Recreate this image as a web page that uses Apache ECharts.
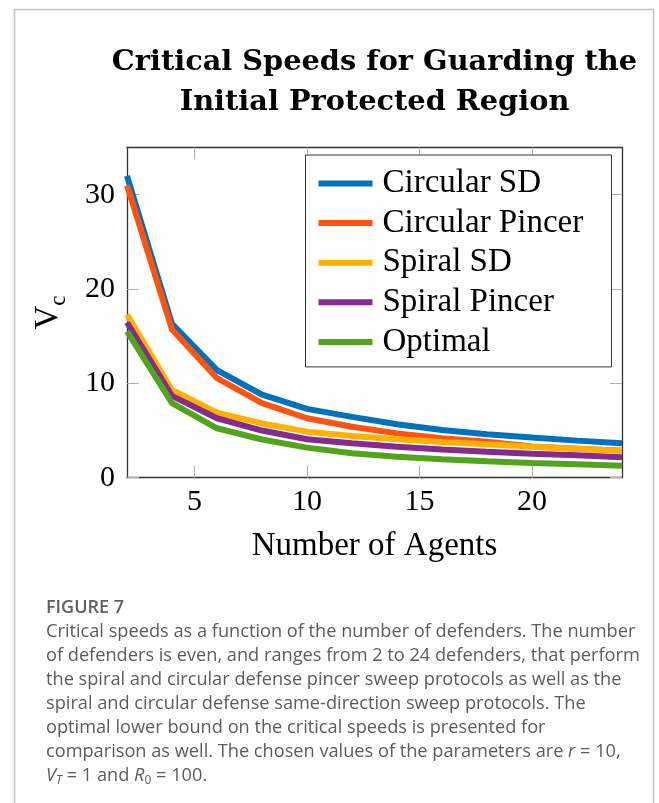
<!DOCTYPE html>
<html>
<head>
<meta charset="utf-8">
<script src="https://cdn.jsdelivr.net/npm/echarts@6/dist/echarts.min.js"></script>
<style>
  html, body { margin: 0; padding: 0; background: #fff; }
  #chart { width: 659px; height: 803px; }
</style>
</head>
<body>
<div id="chart"></div>
<script>
// ---- Data ----
const agents = [2, 4, 6, 8, 10, 12, 14, 16, 18, 20, 22, 24];
const circularSD     = [32.0, 16.3, 11.4, 8.8, 7.3, 6.45, 5.67, 5.06, 4.6, 4.25, 3.93, 3.65];
const circularPincer = [31.0, 15.7, 10.55, 7.9, 6.3, 5.4, 4.7, 4.18, 3.8, 3.3, 3.08, 2.87];
const spiralSD       = [17.3, 9.3, 6.9, 5.75, 4.88, 4.43, 4.07, 3.79, 3.54, 3.29, 3.08, 2.87];
const spiralPincer   = [16.45, 8.67, 6.3, 5.0, 4.08, 3.65, 3.29, 3.0, 2.76, 2.55, 2.37, 2.16];
const optimal        = [15.5, 7.9, 5.24, 4.05, 3.19, 2.59, 2.23, 1.95, 1.74, 1.56, 1.42, 1.27];

const seriesNames = ['Circular SD', 'Circular Pincer', 'Spiral SD', 'Spiral Pincer', 'Optimal'];
const seriesValues = [circularSD, circularPincer, spiralSD, spiralPincer, optimal];
const seriesColors = ['#0072BD', '#FF5310', '#FFB000', '#862A8C', '#52A51A'];

const xTicks = [5, 10, 15, 20];
const yTicks = [0, 10, 20, 30];

const titleText = 'Critical Speeds for Guarding the\nInitial Protected Region';
const xName = 'Number of Agents';
const captionHead = 'FIGURE 7';
const captionLines = [
  'Critical speeds as a function of the number of defenders. The number',
  'of defenders is even, and ranges from 2 to 24 defenders, that perform',
  'the spiral and circular defense pincer sweep protocols as well as the',
  'spiral and circular defense same-direction sweep protocols. The',
  'optimal lower bound on the critical speeds is presented for',
  'comparison as well. The chosen values of the parameters are {i|r} = 10,',
  '{i|V}{isub|T} = 1 and {i|R}{sub|0} = 100.'
];

// ---- Styles ----
const SERIF = "'Liberation Serif', 'Times New Roman', serif";
const SANS = "'Open Sans', Lato, sans-serif";
const CAP_COLOR = '#5c5c5c';

const chart = echarts.init(document.getElementById('chart'), null, { renderer: 'canvas' });

const tickStyle = { show: true, inside: true, length: 12, lineStyle: { color: '#b0b0b0', width: 1 } };
const lineStyleAxis = { show: true, onZero: false, lineStyle: { color: '#333', width: 1.3 } };

const captionGraphics = [];
captionGraphics.push({
  type: 'text', left: 46, top: 599,
  style: { text: captionHead, font: "600 18px " + SANS, fill: '#606060' }
});
captionLines.forEach((t, i) => {
  captionGraphics.push({
    type: 'text', left: 46, top: 623 + i * 24,
    style: {
      text: t, fontFamily: SANS, fontSize: 18.2, fill: CAP_COLOR,
      rich: {
        i: { fontFamily: SANS, fontSize: 18.2, fontStyle: 'italic', fill: CAP_COLOR },
        isub: { fontFamily: SANS, fontSize: 12, fontStyle: 'italic', fill: CAP_COLOR, padding: [10, 0, 0, 0] },
        sub: { fontFamily: SANS, fontSize: 12, fill: CAP_COLOR, padding: [10, 0, 0, 0] }
      }
    }
  });
});

const option = {
  animation: false,
  backgroundColor: '#fff',
  title: {
    text: titleText,
    left: 374.5,
    top: 43,
    textAlign: 'center',
    padding: 0,
    textStyle: { fontFamily: "'DejaVu Serif', serif", fontWeight: 'bold', fontSize: 28.8, lineHeight: 40, color: '#000' }
  },
  grid: { left: 127, right: 37, top: 147.5, bottom: 325.3, containLabel: false, outerBoundsMode: 'none' },
  legend: {
    orient: 'vertical',
    left: 305.5, top: 155,
    padding: [12, 19, 8.5, 13],
    itemWidth: 54, itemHeight: 6, itemGap: 6.6,
    icon: 'rect',
    borderColor: '#333', borderWidth: 1, backgroundColor: '#fff',
    selectedMode: false,
    data: seriesNames,
    textStyle: { fontFamily: SERIF, fontSize: 33, lineHeight: 30, width: 210, padding: [0, 0, 0, 5], color: '#000' }
  },
  xAxis: [
    {
      type: 'value', position: 'bottom', min: 2, max: 24,
      axisLine: lineStyleAxis,
      axisTick: Object.assign({}, tickStyle, { customValues: xTicks }),
      axisLabel: { customValues: xTicks, fontFamily: SERIF, fontSize: 30, color: '#000', margin: 9 },
      splitLine: { show: false },
      name: xName, nameLocation: 'middle', nameGap: 52,
      nameTextStyle: { fontFamily: SERIF, fontSize: 33, color: '#000' }
    },
    {
      type: 'value', position: 'top', min: 2, max: 24,
      axisLine: lineStyleAxis,
      axisTick: Object.assign({}, tickStyle, { customValues: xTicks }),
      axisLabel: { show: false },
      splitLine: { show: false }
    }
  ],
  yAxis: [
    {
      type: 'value', position: 'left', min: 0, max: 35,
      axisLine: lineStyleAxis,
      axisTick: Object.assign({}, tickStyle, { customValues: yTicks }),
      axisLabel: { customValues: yTicks, fontFamily: SERIF, fontSize: 30, color: '#000', margin: 12 },
      splitLine: { show: false },
      name: '{v|V}{c|c}', nameLocation: 'middle', nameGap: 61,
      nameTextStyle: {
        rich: {
          v: { fontFamily: SERIF, fontSize: 33, lineHeight: 34, color: '#000', verticalAlign: 'top' },
          c: { fontFamily: SERIF, fontSize: 23, lineHeight: 23, color: '#000', verticalAlign: 'top', padding: [15, 0, 0, 0] }
        }
      }
    },
    {
      type: 'value', position: 'right', min: 0, max: 35,
      axisLine: lineStyleAxis,
      axisTick: Object.assign({}, tickStyle, { customValues: yTicks }),
      axisLabel: { show: false },
      splitLine: { show: false }
    }
  ],
  series: seriesNames.map((name, k) => ({
    name: name,
    type: 'line',
    xAxisIndex: 0, yAxisIndex: 0,
    showSymbol: false, symbol: 'none',
    color: seriesColors[k],
    lineStyle: { width: 6, color: seriesColors[k] },
    emphasis: { disabled: true },
    z: 2 + k,
    data: agents.map((a, i) => [a, seriesValues[k][i]])
  })),
  graphic: [
    {
      type: 'polyline', silent: true,
      shape: { points: [[14.5, 803], [14.5, 9.5], [653.5, 9.5], [653.5, 803]] },
      style: { stroke: '#c4c4c4', lineWidth: 1.5, fill: null }
    }
  ].concat(captionGraphics)
};

chart.setOption(option);
</script>
</body>
</html>
